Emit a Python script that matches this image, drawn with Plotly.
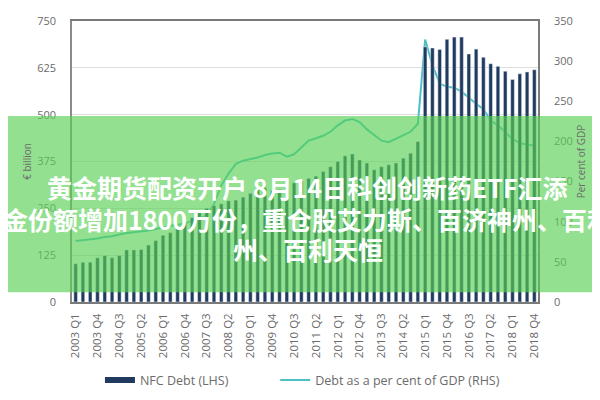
import plotly.graph_objects as go

# quarters 2003 Q1 .. 2018 Q4
quarters = [f"{y} Q{q}" for y in range(2003, 2019) for q in range(1, 5)]

# NFC debt, EUR bn (left axis)
nfc_debt = [102, 106, 106, 118, 124, 118, 124, 139, 139, 140, 152, 164,
            178, 185, 196, 212, 225, 240, 250, 257, 262, 270, 272, 280,
            290, 300, 305, 298, 300, 310, 318, 323, 330, 336, 348, 361,
            375, 390, 395, 379, 371, 353, 361, 366, 371, 384, 397, 428,
            681, 678, 674, 701, 707, 707, 662, 675, 653, 636, 629, 616,
            594, 609, 614, 620]

# debt as per cent of GDP (right axis)
debt_pct_gdp = [76, 77, 78, 79, 81, 82, 84, 86, 87, 88, 89, 91,
                93, 95, 96, 98, 101, 104, 108, 122, 145, 160, 172, 176,
                178, 180, 183, 185, 186, 181, 184, 193, 201, 204, 207, 212,
                220, 226, 228, 224, 215, 208, 201, 199, 203, 207, 212, 222,
                327, 295, 272, 268, 267, 262, 254, 247, 240, 226, 220, 211,
                203, 198, 196, 195]

tick_labels = quarters[::3]

left_ticks = [0, 125, 250, 375, 500, 625, 750]
right_ticks = [0, 50, 100, 150, 200, 250, 300, 350]

banner_lines = [
    "黄金期货配资开户 8月14日科创创新药ETF汇添",
    "金份额增加1800万份，重仓股艾力斯、百济神州、百利",
    "州、百利天恒",
]

NAVY = "#213a5f"
TEAL = "#4cc0c5"
GREY = "#6b6b6b"

fig = go.Figure()
# line sits on the main (right) axis so the bars, on the overlaying axis, cover it
fig.add_trace(go.Scatter(x=quarters, y=debt_pct_gdp, yaxis="y", mode="lines",
                         line=dict(color=TEAL, width=2), showlegend=False,
                         name="Debt as a per cent of GDP (RHS)"))
fig.add_trace(go.Bar(x=quarters, y=nfc_debt, yaxis="y2", marker_color=NAVY,
                     showlegend=False, name="NFC Debt (LHS)"))
# legend entries drawn as line swatches, one legend each so they can be placed
fig.add_trace(go.Scatter(x=[None], y=[None], mode="lines",
                         line=dict(color=NAVY, width=6), name="NFC Debt (LHS)",
                         legend="legend"))
fig.add_trace(go.Scatter(x=[None], y=[None], mode="lines",
                         line=dict(color=TEAL, width=2),
                         name="Debt as a per cent of GDP (RHS)", legend="legend2"))

axis_font = dict(family="Open Sans", size=11, color=GREY)
legend_style = dict(orientation="h", xanchor="left", y=-0.279, yanchor="middle",
                    font=dict(size=12.5, color=GREY), itemwidth=30,
                    bgcolor="rgba(0,0,0,0)")

fig.update_layout(
    width=600, height=400,
    margin=dict(l=64, r=70, t=13, b=100),
    paper_bgcolor="white", plot_bgcolor="white",
    bargap=0.5,
    font=axis_font,
    xaxis=dict(type="category", tickmode="array", tickvals=tick_labels,
               ticktext=tick_labels, tickangle=-90, tickfont=dict(size=11.5, color=GREY),
               showline=True, linecolor="#7a7a7a", linewidth=1.5, mirror=True,
               showgrid=False, ticks="", ticklabelstandoff=5, automargin=False),
    yaxis=dict(range=[0, 350], tickvals=right_ticks, side="right",
               showgrid=False, showline=True,
               linecolor="#7a7a7a", linewidth=1.5, zeroline=False,
               ticklabelstandoff=12, automargin=False,
               title=dict(text="Per cent of GDP", font=dict(size=10, color=GREY),
                          standoff=6)),
    yaxis2=dict(range=[0, 750], tickvals=left_ticks, overlaying="y", side="left",
                showgrid=True, gridcolor="#dedede", gridwidth=1, showline=True,
                linecolor="#8a8a8a", linewidth=1.5, zeroline=False,
                ticklabelstandoff=12, automargin=False,
                title=dict(text="€ billion", font=dict(size=10, color=GREY),
                           standoff=4)),
    legend=dict(x=0.06, **legend_style),
    legend2=dict(x=0.436, **legend_style),
)

# green promo banner across the chart
fig.add_shape(type="rect", xref="paper", yref="paper",
              x0=-0.2, x1=1.3, y0=0.0348, y1=0.662,
              fillcolor="rgba(89,209,85,0.65)", line_width=0, layer="above")

for text, yy in zip(banner_lines, [0.411, 0.296, 0.188]):
    fig.add_annotation(text=text, xref="paper", yref="paper", x=0.5064, y=yy,
                       showarrow=False, xanchor="center", yanchor="middle",
                       font=dict(family="Noto Sans CJK SC", size=25,
                                 color="white", weight="bold"))

fig.write_html("out.html")
